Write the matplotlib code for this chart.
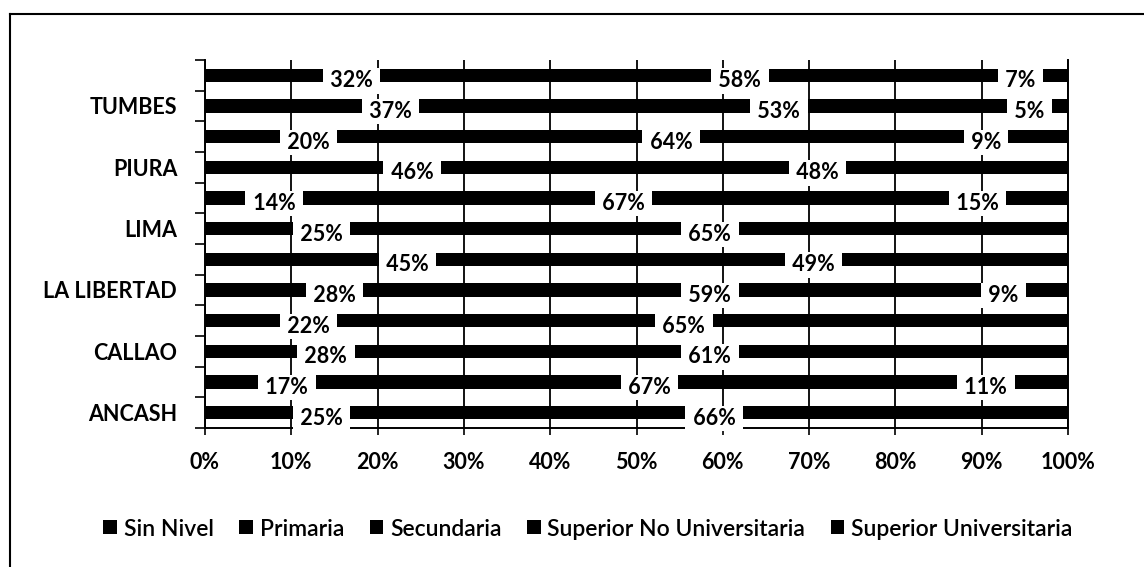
import matplotlib
matplotlib.use("Agg")
import matplotlib.pyplot as plt
from matplotlib.lines import Line2D
from matplotlib.patches import Patch

plt.rcParams['font.family'] = ['Lato', 'DejaVu Sans']

# categories from bottom to top (every other label hidden, as in the original)
categories = ["ANCASH", "", "CALLAO", "", "LA LIBERTAD", "", "LIMA", "", "PIURA", "", "TUMBES", ""]

series_names = ["Sin Nivel", "Primaria", "Secundaria",
                "Superior No Universitaria", "Superior Universitaria"]

sin_nivel   = [1, 1, 0, 1, 1, 1, 1, 1, 1, 2, 3, 1]
primaria    = [25, 17, 28, 22, 28, 45, 25, 14, 46, 20, 37, 32]
secundaria  = [66, 67, 61, 65, 59, 49, 65, 67, 48, 64, 53, 58]
sup_no_univ = [0, 11, 0, 0, 9, 0, 0, 15, 0, 9, 5, 7]
sup_univ    = [8, 4, 11, 12, 3, 5, 9, 3, 5, 5, 2, 2]

# which series carry a data label in the picture
labeled = [False, True, True, True, False]

fig = plt.figure(figsize=(11.44, 5.67), dpi=100)
ax = fig.add_axes([205/1144, 1-428/567, (1068-205)/1144, (428-60)/567])

ypos = list(range(len(categories)))
left = [0]*len(categories)
all_series = [sin_nivel, primaria, secundaria, sup_no_univ, sup_univ]

for name, vals, lab in zip(series_names, all_series, labeled):
    bars = ax.barh(ypos, vals, left=left, height=0.44, color="black", label=name)
    if lab:
        for rect, v in zip(bars, vals):
            if v <= 0:
                continue
            cx = rect.get_x() + rect.get_width()/2
            cy = rect.get_y() + rect.get_height()/2
            ax.annotate(f" {v}% ", (cx, cy), xytext=(0, -4), textcoords="offset points",
                        ha="center", va="center", fontsize=15.5, fontweight="bold",
                        bbox=dict(boxstyle="square,pad=0.1", fc="white", ec="none"),
                        zorder=5)
    left = [a + b for a, b in zip(left, vals)]

ax.set_xlim(0, 100)
ax.set_ylim(-0.5, len(categories) - 0.5)
ax.set_xticks(range(0, 101, 10))
ax.set_xticklabels([f"{t}%" for t in range(0, 101, 10)], fontsize=15.5, fontweight="bold")
ax.set_yticks(ypos)
ax.set_yticklabels(categories, fontsize=15.5, fontweight="bold")
ax.set_yticks([y - 0.5 for y in range(len(categories) + 1)], minor=True)

ax.tick_params(axis="y", which="major", length=0, pad=20)
ax.tick_params(axis="y", which="minor", length=7, width=1.2, direction="out")
ax.tick_params(axis="x", which="major", length=5, width=1.2, direction="out", pad=12)

ax.set_axisbelow(True)
ax.grid(axis="x", color="black", linewidth=1.3)
ax.spines["top"].set_visible(False)
for s in ["left", "bottom", "right"]:
    ax.spines[s].set_linewidth(1.4)

handles = [Patch(facecolor="black", label=n) for n in series_names]
fig.legend(handles=handles, loc="center", bbox_to_anchor=(588/1144, 1-529/567), ncol=5,
           frameon=False, prop={"size": 16.5, "weight": "semibold"},
           handlelength=0.6, handleheight=0.55,
           handletextpad=0.3, columnspacing=1.1)

# outer chart frame (only top and left edges show in the scan)
fig.add_artist(Line2D([10/1144, 1], [1-14/567, 1-14/567], transform=fig.transFigure,
                      color="black", linewidth=1.5))
fig.add_artist(Line2D([10/1144, 10/1144], [1-14/567, 0], transform=fig.transFigure,
                      color="black", linewidth=1.5))

fig.savefig("out.png", dpi=100)
